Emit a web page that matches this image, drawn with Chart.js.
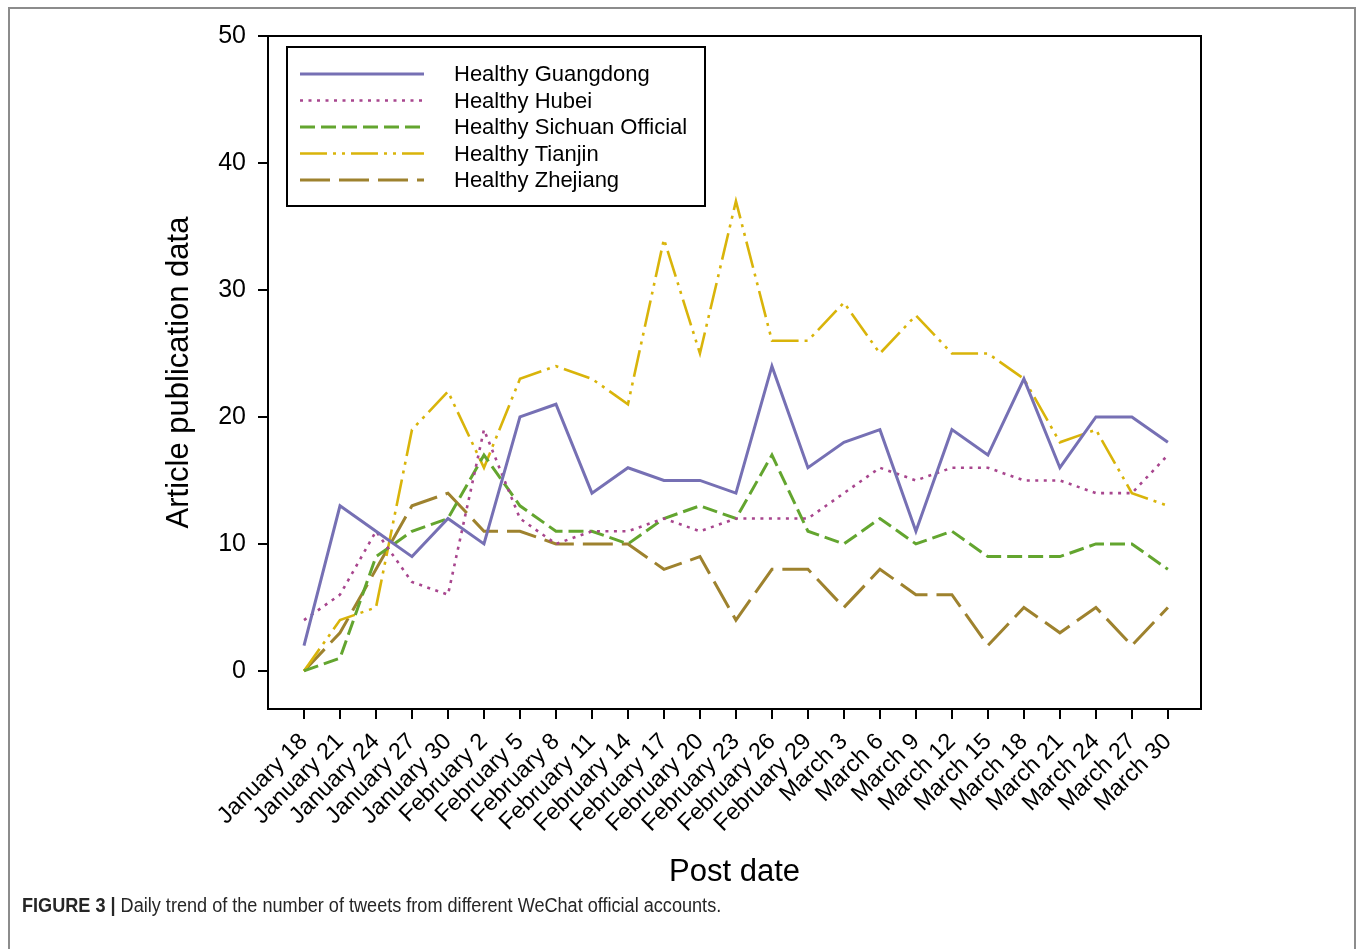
<!DOCTYPE html>
<html>
<head>
<meta charset="utf-8">
<script src="https://cdn.jsdelivr.net/npm/chart.js@4.4.1/dist/chart.umd.min.js"></script>
<style>
  body { margin: 0; background: #fff; }
  #frame { position: absolute; left: 8px; top: 7px; width: 1348px; height: 980px; border: 2px solid #8c8c8c; box-sizing: border-box; }
  #wrap { position: absolute; left: 0; top: 0; width: 1360px; height: 900px; }
  #caption { position: absolute; left: 22px; top: 894px; font-family: "Liberation Sans", Arial, sans-serif; font-size: 20px; color: #262626; white-space: nowrap; transform: scaleX(0.905); transform-origin: left top; }
  #caption b { font-weight: bold; }
</style>
</head>
<body>
<div id="frame"></div>
<div id="wrap"><canvas id="myChart" width="1360" height="900"></canvas></div>
<div id="caption"><b>FIGURE 3 |</b> Daily trend of the number of tweets from different WeChat official accounts.</div>
<script>
const ctx = document.getElementById('myChart');

const dates = ["January 18", "January 21", "January 24", "January 27", "January 30",
    "February 2", "February 5", "February 8", "February 11", "February 14", "February 17",
    "February 20", "February 23", "February 26", "February 29", "March 3", "March 6",
    "March 9", "March 12", "March 15", "March 18", "March 21", "March 24", "March 27", "March 30"]

const guangdong = [2, 13, 11, 9, 12, 10, 20, 21, 14, 16, 15, 15, 14, 24, 16, 18, 19, 11, 19, 17, 23, 16, 20, 20, 18]
const hubei = [4, 6, 11, 7, 6, 19, 12, 10, 11, 11, 12, 11, 12, 12, 12, 14, 16, 15, 16, 16, 15, 15, 14, 14, 17]
const sichuan = [0, 1, 9, 11, 12, 17, 13, 11, 11, 10, 12, 13, 12, 17, 11, 10, 12, 10, 11, 9, 9, 9, 10, 10, 8]
const tianjin = [0, 4, 5, 19, 22, 16, 23, 24, 23, 21, 34, 25, 37, 26, 26, 29, 25, 28, 25, 25, 23, 18, 19, 14, 13]
const zhejiang = [0, 3, 8, 13, 14, 11, 11, 10, 10, 10, 8, 9, 4, 8, 8, 5, 8, 6, 6, 2, 5, 3, 5, 2, 5]

const seriesNames = ["Healthy Guangdong", "Healthy Hubei", "Healthy Sichuan Official", "Healthy Tianjin", "Healthy Zhejiang"]
const seriesData = [guangdong, hubei, sichuan, tianjin, zhejiang]
const yTicks = [0, 10, 20, 30, 40, 50]

// line look per series
const colors = ["#7670b4", "#a8468e", "#63a52f", "#d9b40a", "#9e822e"]
const dashes = [[], [3, 5.5], [15, 6], [27, 6, 3, 6, 3, 6], [30, 9]]
const widths = [3, 2.6, 3, 2.6, 3]

const datasets = seriesData.map((vals, i) => ({
    label: seriesNames[i],
    data: vals.map((v, j) => ({ x: j, y: v })),
    borderColor: colors[i],
    borderDash: dashes[i],
    borderWidth: widths[i],
    pointRadius: 0,
    tension: 0,
    fill: false
}))

const fontFam = '"Liberation Sans", Arial, sans-serif'

const frameBox = {
    id: 'frameBox',
    afterDraw(chart) {
        const c = chart.ctx
        const a = chart.chartArea
        c.save()
        c.strokeStyle = '#000'
        c.lineWidth = 2
        c.strokeRect(a.left, a.top, a.right - a.left, a.bottom - a.top)

        // legend box in the top left of the plot
        const bx = a.left + 19, by = a.top + 11
        c.strokeRect(bx, by, 418, 159)
        c.font = '22px ' + fontFam
        c.textBaseline = 'middle'
        c.fillStyle = '#000'
        chart.data.datasets.forEach((ds, i) => {
            const y = by + 27 + i * 26.5
            c.beginPath()
            c.setLineDash(ds.borderDash)
            c.strokeStyle = ds.borderColor
            c.lineWidth = ds.borderWidth
            c.moveTo(bx + 13, y)
            c.lineTo(bx + 137, y)
            c.stroke()
            c.fillText(ds.label, bx + 167, y + 1)
        })
        c.restore()
    }
}

new Chart(ctx, {
    type: 'line',
    data: { datasets: datasets },
    options: {
        responsive: false,
        animation: false,
        layout: { padding: { top: 36, right: 159, left: 0, bottom: 0 } },
        plugins: { legend: { display: false }, tooltip: { enabled: false } },
        scales: {
            x: {
                type: 'linear',
                min: -1,
                max: 24.92,
                afterBuildTicks: (s) => { s.ticks = dates.map((d, i) => ({ value: i })) },
                afterFit: (s) => { s.height = 191 },
                ticks: {
                    autoSkip: false,
                    maxRotation: 45,
                    minRotation: 45,
                    padding: 9,
                    color: '#000',
                    font: { size: 23.5, family: fontFam },
                    callback: (v) => dates[v]
                },
                grid: { drawOnChartArea: false, drawTicks: true, tickLength: 10, color: '#000', lineWidth: 2 },
                border: { display: true, color: '#000', width: 2 },
                title: {
                    display: true,
                    text: 'Post date',
                    color: '#000',
                    font: { size: 31, family: fontFam },
                    padding: { top: 0, bottom: 9 }
                }
            },
            y: {
                min: -3,
                max: 50,
                afterBuildTicks: (s) => { s.ticks = yTicks.map(v => ({ value: v })) },
                afterFit: (s) => { s.width = 268 },
                ticks: {
                    padding: 12,
                    color: '#000',
                    font: { size: 25, family: fontFam }
                },
                grid: { drawOnChartArea: false, drawTicks: true, tickLength: 10, color: '#000', lineWidth: 2 },
                border: { display: true, color: '#000', width: 2 },
                title: {
                    display: true,
                    text: 'Article publication data',
                    color: '#000',
                    font: { size: 31, family: fontFam },
                    padding: { top: 161, bottom: 0 }
                }
            }
        }
    },
    plugins: [frameBox]
})
</script>
</body>
</html>
